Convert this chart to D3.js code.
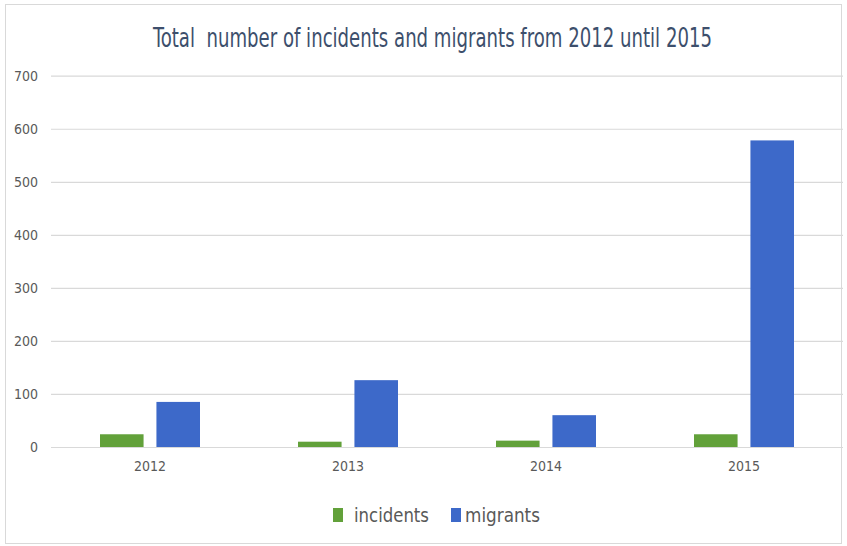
<!DOCTYPE html>
<html>
<head>
<meta charset="utf-8">
<script src="https://cdn.jsdelivr.net/npm/d3@7"></script>
<style>
  html, body { margin: 0; padding: 0; background: #fff; }
  svg { display: block; }
  .fnt { font-family: "Liberation Sans Narrow", "DejaVu Sans Condensed", "Open Sans", sans-serif; }
</style>
</head>
<body>
<svg id="chart" width="847" height="546"></svg>
<script>
const years = ["2012", "2013", "2014", "2015"];
const seriesNames = ["incidents", "migrants"];
const incidents = [24, 10, 12, 24];
const migrants = [85, 126, 60, 578];
const yTicks = [0, 100, 200, 300, 400, 500, 600, 700];
const titleText = "Total  number of incidents and migrants from 2012 until 2015";
const colors = { incidents: "#62a13a", migrants: "#3d69c9" };

const svg = d3.select("#chart");
const plot = { left: 51, right: 843, top: 75.7, bottom: 447 };

svg.append("rect").attr("x", 5.5).attr("y", 4.5).attr("width", 836).attr("height", 539)
  .attr("fill", "#fff").attr("stroke", "#d9d9d9").attr("stroke-width", 1);

const x0 = d3.scaleBand().domain(years).range([plot.left, plot.right]).padding(0);
const x1 = d3.scaleBand().domain(seriesNames).range([49, 149]).paddingInner(0.228).paddingOuter(0);
const y = d3.scaleLinear().domain([0, 700]).range([plot.bottom, plot.top]);

// gridlines + y labels
const yAxis = d3.axisLeft(y).tickValues(yTicks).tickSize(-(plot.right - plot.left)).tickPadding(13);
const gy = svg.append("g").attr("transform", `translate(${plot.left},0)`).call(yAxis);
gy.select(".domain").remove();
gy.selectAll(".tick line").attr("stroke", "#d9d9d9").attr("stroke-width", 1.2);
gy.selectAll(".tick text").attr("class", "fnt").attr("fill", "#595959").attr("font-size", 14);

// bars
const rows = years.map((yr, i) => ({ year: yr, incidents: incidents[i], migrants: migrants[i] }));
const groups = svg.append("g").selectAll("g").data(rows).join("g")
  .attr("transform", d => `translate(${x0(d.year)},0)`);
groups.selectAll("rect").data(d => seriesNames.map(k => ({ key: k, value: d[k] }))).join("rect")
  .attr("x", d => x1(d.key))
  .attr("width", x1.bandwidth())
  .attr("y", d => y(d.value))
  .attr("height", d => y(0) - y(d.value))
  .attr("fill", d => colors[d.key]);

// x labels
const xAxis = d3.axisBottom(x0).tickSize(0).tickPadding(14);
const gx = svg.append("g").attr("transform", `translate(0,${plot.bottom})`).call(xAxis);
gx.select(".domain").remove();
gx.selectAll(".tick text").attr("class", "fnt").attr("fill", "#595959").attr("font-size", 14);

// fit a text horizontally to a target width by scaling around its anchor x
function fitWidth(sel, ax, ay, target) {
  const len = sel.node().getComputedTextLength();
  const s = target / len;
  sel.attr("x", 0).attr("y", 0)
     .attr("transform", `translate(${ax},${ay}) scale(${s},1)`);
}

// title
const title = svg.append("text").attr("class", "fnt")
  .attr("text-anchor", "middle")
  .attr("font-size", 26).attr("fill", "#3d4f6c")
  .style("white-space", "pre")
  .text(titleText);
fitWidth(title, 432.5, 47, 559);

// legend
const legendItems = [
  { key: "incidents", sx: 333, tx: 354, len: 75 },
  { key: "migrants", sx: 451, tx: 465, len: 75 }
];
const lg = svg.append("g");
legendItems.forEach(it => {
  lg.append("rect").attr("x", it.sx).attr("y", 508).attr("width", 10).attr("height", 14)
    .attr("fill", colors[it.key]);
  const t = lg.append("text").attr("class", "fnt")
    .attr("font-size", 19).attr("fill", "#595959")
    .text(it.key);
  fitWidth(t, it.tx, 522, it.len);
});
</script>
</body>
</html>
